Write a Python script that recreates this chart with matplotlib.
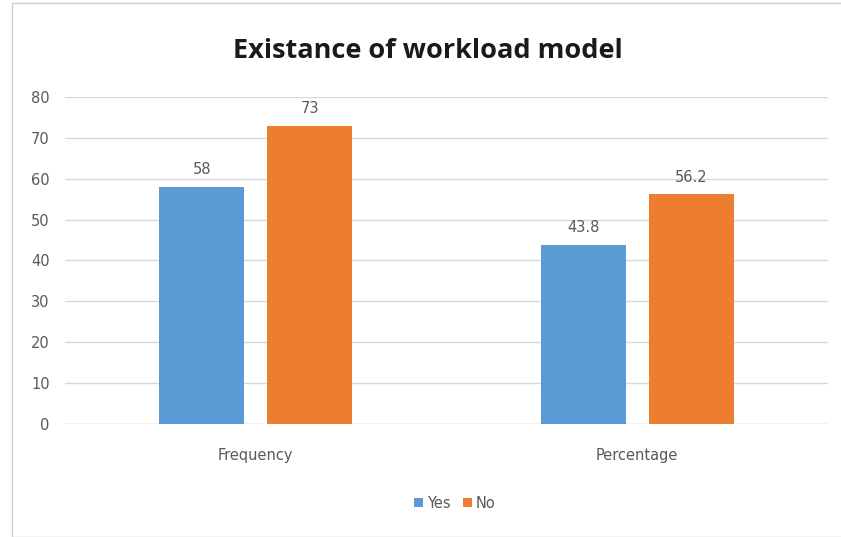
import matplotlib
matplotlib.use("Agg")
import matplotlib.pyplot as plt
from matplotlib.patches import Rectangle
import numpy as np

categories = ["Frequency", "Percentage"]
series = ["Yes", "No"]
yes_vals = [58, 43.8]
no_vals = [73, 56.2]
yes_labels = ["58", "43.8"]
no_labels = ["73", "56.2"]
yticks = [0, 10, 20, 30, 40, 50, 60, 70, 80]

BLUE = "#5b9bd5"
ORANGE = "#ed7d31"
GRID = "#d9d9d9"
TXT = "#595959"

plt.rcParams["font.family"] = ["DejaVu Sans"]

fig = plt.figure(figsize=(8.41, 5.37), dpi=100)
ax = fig.add_axes([0.0773, 0.2104, 0.9072, 0.609])

x = np.arange(len(categories))
w = 0.223
off = 0.142
b1 = ax.bar(x - off, yes_vals, w, color=BLUE, label=series[0], zorder=3)
b2 = ax.bar(x + off, no_vals, w, color=ORANGE, label=series[1], zorder=3)

for bars, labs in ((b1, yes_labels), (b2, no_labels)):
    for r, lab in zip(bars, labs):
        ax.annotate(lab, (r.get_x() + r.get_width() / 2, r.get_height()),
                    xytext=(0, 7), textcoords="offset points", ha="center",
                    va="bottom", fontsize=10.5, color=TXT)

ax.set_xlim(-0.5, 1.5)
ax.set_ylim(0, 80)
ax.set_yticks(yticks)
ax.set_xticks(x)
ax.set_xticklabels(categories)
ax.tick_params(axis="both", length=0, labelsize=10.5, colors=TXT)
ax.tick_params(axis="y", pad=11)
ax.tick_params(axis="x", pad=17)
ax.grid(axis="y", color=GRID, lw=1, zorder=0)
for s in ax.spines.values():
    s.set_visible(False)
ax.axhline(0, color=GRID, lw=1, zorder=2)

fig.text(0.509, 0.905, "Existance of workload model", ha="center", va="center",
         fontsize=19.5, fontweight="bold", color="#1a1a1a",
         family=["Open Sans", "DejaVu Sans"])

fig.legend(handles=[b1, b2], labels=series, loc="center", ncol=2,
           bbox_to_anchor=(0.541, 0.063), frameon=False, fontsize=10.5,
           handlelength=0.6, handleheight=0.6, handletextpad=0.3,
           columnspacing=0.8, labelcolor=TXT)

fig.patches.append(Rectangle((0.014, 0.0), 0.99, 0.995, transform=fig.transFigure,
                             fill=False, edgecolor="#d0d0d0", lw=1))

fig.savefig("out.png", dpi=100, facecolor="white")
